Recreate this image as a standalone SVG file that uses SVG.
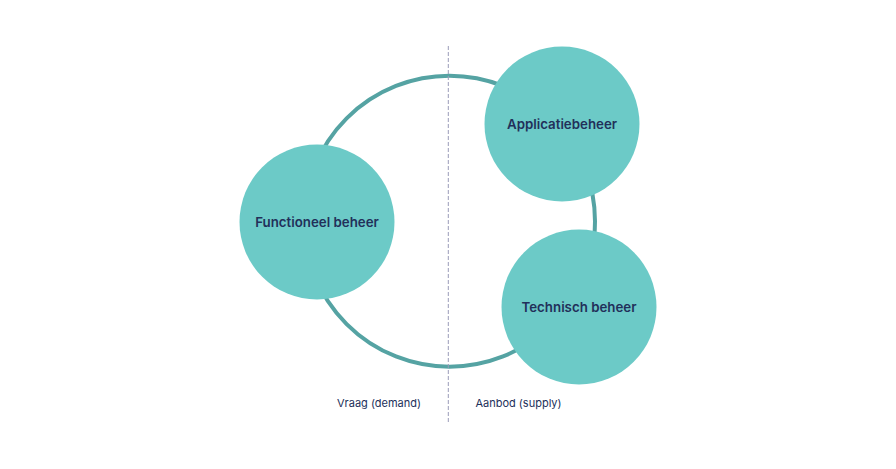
<svg xmlns="http://www.w3.org/2000/svg" width="896" height="469" viewBox="0 0 896 469">
<style>
.node{fill:#6ccac7}
.lbl{font-family:Inter,"Open Sans",sans-serif;font-weight:600;font-size:13.3px;fill:#22305a;text-anchor:middle}
.side{font-family:Inter,"Open Sans",sans-serif;font-weight:400;font-size:11px;fill:#22305a;text-anchor:middle}
</style>
<rect width="896" height="469" fill="#ffffff"/>
<g id="connectors">
<circle cx="449.5" cy="221.2" r="145.5" fill="none" stroke="#55a3a3" stroke-width="4"/>
<line x1="448.3" y1="46" x2="448.3" y2="422" stroke="#9a9cb8" stroke-width="1" stroke-dasharray="4 2"/>
</g>
<g id="functioneel">
<circle class="node" cx="317" cy="222" r="77.5"/>
<text class="lbl" x="317" y="226.5">Functioneel beheer</text>
</g>
<g id="applicatie">
<circle class="node" cx="562" cy="124" r="77.5"/>
<text class="lbl" x="562" y="128.5">Applicatiebeheer</text>
</g>
<g id="technisch">
<circle class="node" cx="579" cy="307" r="77.5"/>
<text class="lbl" x="579" y="311.5">Technisch beheer</text>
</g>
<g id="labels">
<text class="side" x="379" y="406.5">Vraag (demand)</text>
<text class="side" x="518.5" y="406.5">Aanbod (supply)</text>
</g>
</svg>
